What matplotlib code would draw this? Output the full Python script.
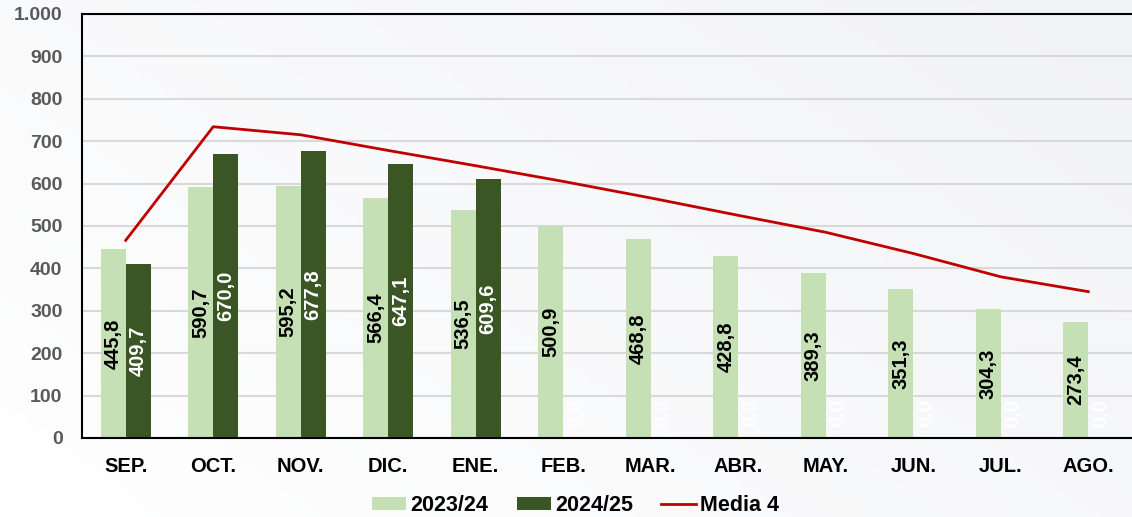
import matplotlib
matplotlib.use('Agg')
import matplotlib.pyplot as plt
import numpy as np
from matplotlib.ticker import FuncFormatter

# Data
months = ['SEP.', 'OCT.', 'NOV.', 'DIC.', 'ENE.', 'FEB.', 'MAR.', 'ABR.', 'MAY.', 'JUN.', 'JUL.', 'AGO.']
serie_2023_24 = [445.8, 590.7, 595.2, 566.4, 536.5, 500.9, 468.8, 428.8, 389.3, 351.3, 304.3, 273.4]
serie_2024_25 = [409.7, 670.0, 677.8, 647.1, 609.6, 0.0, 0.0, 0.0, 0.0, 0.0, 0.0, 0.0]
media_4 = [466, 734, 715, 678, 642, 605, 566, 525, 485, 435, 380, 345]

plt.rcParams['font.family'] = ['Liberation Sans', 'DejaVu Sans']
plt.rcParams['font.weight'] = 'bold'

fig = plt.figure(figsize=(11.32, 5.17), dpi=100)

# faint grey gradient behind everything
bg = fig.add_axes([0, 0, 1, 1], zorder=-1)
gx, gy = np.meshgrid(np.linspace(0, 1, 200), np.linspace(0, 1, 100))
grad = 0.6 * gx + 0.4 * (1 - gy)
bg.imshow(grad, extent=[0, 1, 0, 1], aspect='auto', origin='upper',
          cmap=matplotlib.colors.LinearSegmentedColormap.from_list('g', ['#FFFFFF', '#F2F3F6']))
bg.axis('off')

ax = fig.add_axes([0.0724, 0.153, 0.9276, 0.82])
ax.set_facecolor('none')

x = np.arange(len(months))
w = 0.285
light = '#C5E0B4'
dark = '#3B5625'

b1 = ax.bar(x - w / 2, serie_2023_24, w, color=light, label='2023/24', zorder=2)
b2 = ax.bar(x + w / 2, serie_2024_25, w, color=dark, label='2024/25', zorder=2)
ln, = ax.plot(x, media_4, color='#C00000', lw=2, label='Media 4', zorder=3)

def fmt(v):
    return f'{v:.1f}'.replace('.', ',')

for xi, v in zip(x - w / 2, serie_2023_24):
    ax.text(xi, v / 2, fmt(v), rotation=90, ha='center', va='center',
            fontsize=14.5, fontweight='bold', color='black', zorder=4)
for xi, v in zip(x + w / 2, serie_2024_25):
    if v > 0:
        ax.text(xi, v / 2, fmt(v), rotation=90, ha='center', va='center',
                fontsize=14.5, fontweight='bold', color='white', zorder=4)
    else:
        ax.annotate(fmt(v), (xi, 0), xytext=(0, 8), textcoords='offset points',
                    rotation=90, ha='center', va='bottom',
                    fontsize=14.5, fontweight='bold', color='white', zorder=4)

ax.set_xlim(-0.5, 11.5)
ax.set_ylim(0, 1000)
ax.set_yticks(np.arange(0, 1001, 100))
ax.yaxis.set_major_formatter(FuncFormatter(lambda v, p: f'{int(v):,}'.replace(',', '.')))
ax.set_xticks(x)
ax.set_xticklabels(months)
ax.tick_params(axis='y', length=0, labelsize=14, labelcolor='#595959', pad=14)
ax.tick_params(axis='x', length=0, labelsize=14.5, labelcolor='black', pad=14)
for lab in ax.get_yticklabels() + ax.get_xticklabels():
    lab.set_fontweight('bold')

ax.grid(axis='y', color='#D9D9D9', lw=1.5, zorder=0)
ax.set_axisbelow(True)
for s in ['left', 'top', 'bottom']:
    ax.spines[s].set_color('black')
    ax.spines[s].set_linewidth(1.5)
ax.spines['right'].set_visible(False)

ax.legend([b1, b2, ln], ['2023/24', '2024/25', 'Media 4'],
          loc='center', bbox_to_anchor=(0.47, -0.16), ncol=3, frameon=False,
          prop={'size': 15.5, 'weight': 'bold'}, handlelength=1.6, handleheight=0.6,
          handletextpad=0.2, columnspacing=1.3)

fig.savefig('out.png', dpi=100)
